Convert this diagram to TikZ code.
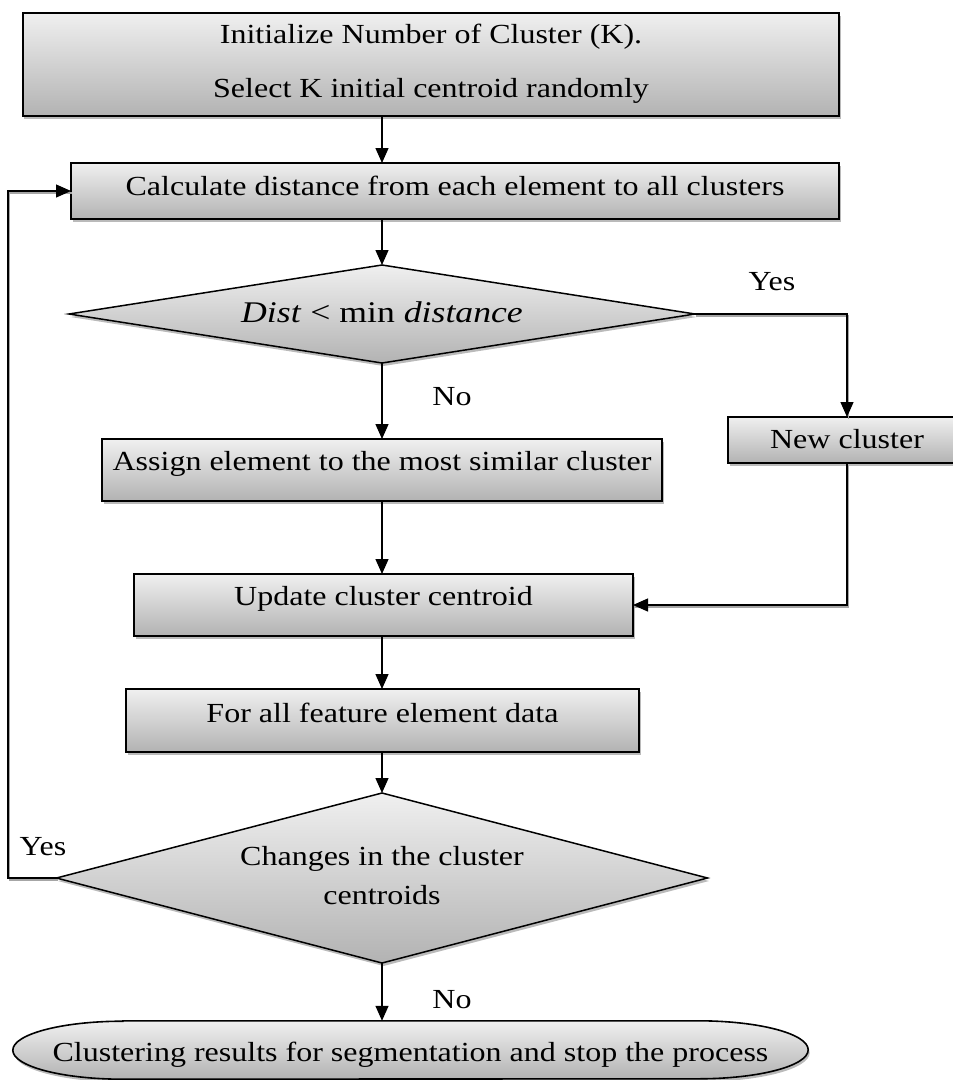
\documentclass[tikz,border=0pt]{standalone}
\usepackage{fontspec}
\setmainfont{Liberation Serif}
\usepackage{graphicx}
\usetikzlibrary{arrows.meta,shapes.geometric,shadows,calc}
\pgfdeclarelayer{background}
\pgfsetlayers{background,main}
\newcommand{\sx}[1]{\scalebox{1.16}[1]{#1}}
\tikzset{
  boxbase/.style={draw=black, inner sep=0pt, outer sep=0pt,
    top color=black!6, bottom color=black!30,
    drop shadow={shadow xshift=1.5pt, shadow yshift=-3pt, opacity=0.45, fill=black!60}},
  box/.style={boxbase, rectangle, line width=1.9pt, font=\fontsize{27.6}{33}\selectfont},
  dec/.style={boxbase, diamond, line width=1.5pt, font=\fontsize{27.6}{33}\selectfont},
  conn/.style={line width=1.3pt, -{Triangle[length=15pt,width=13pt]}},
  sconn/.style={conn, preaction={draw=black!35, line width=1.3pt, -, transform canvas={xshift=1.2pt,yshift=-2pt}}},
  lab/.style={font=\fontsize{27.6}{33}\selectfont, inner sep=0pt},
  termshape/.style={boxbase, line width=1.6pt}
}
\begin{document}
\begin{tikzpicture}[x=1pt,y=-1pt]
\useasboundingbox (0,0) rectangle (953,1080);
\clip (0,0) rectangle (953,1080);

\node[box, minimum width=816.3pt, minimum height=103.3pt, text height=80pt, text depth=14.8pt,
  font=\fontsize{27.6}{53.7}\selectfont] (b1) at (431,64.4)
  {\sx{\begin{tabular}[b]{@{}c@{}}Initialize Number of Cluster (K).\\Select K initial centroid randomly\end{tabular}}};
\node[box, minimum width=768pt, minimum height=56pt, text height=24pt, text depth=16pt] (b2) at (455,191)
  {\sx{Calculate distance from each element to all clusters}};
\node[dec, aspect=6.39, minimum width=626pt, minimum height=98pt, text height=24pt, text depth=8pt,
  font=\fontsize{30}{36}\selectfont] (d1) at (382,314)
  {\scalebox{1.19}[1]{\textit{Dist} < min \textit{distance}}};
\node[box, minimum width=560pt, minimum height=62pt, text height=24pt, text depth=24pt] (asg) at (382,470)
  {\sx{Assign element to the most similar cluster}};
\node[box, minimum width=238pt, minimum height=46pt, text height=24pt, text depth=8pt] (nc) at (847,440)
  {\sx{New cluster}};
\node[box, minimum width=499pt, minimum height=62pt, text height=24pt, text depth=24pt] (upd) at (383.5,605)
  {\sx{Update cluster centroid}};
\node[box, minimum width=513pt, minimum height=63pt, text height=24pt, text depth=21pt] (fa) at (382.5,720.5)
  {\sx{For all feature element data}};
\node[dec, aspect=3.83, minimum width=651pt, minimum height=170pt, text height=70pt, text depth=18pt,
  font=\fontsize{27.6}{39}\selectfont] (d2) at (382,878)
  {\sx{\begin{tabular}[b]{@{}c@{}}Changes in the cluster\\centroids\end{tabular}}};
\node[lab, minimum width=795pt, minimum height=58pt, text height=26pt, text depth=4pt] (term) at (410.5,1050)
  {\sx{Clustering results for segmentation and stop the process}};
\begin{pgfonlayer}{background}
\path[termshape] ($(term.north west)+(110,0)$) -- ($(term.north east)+(-110,0)$)
  arc[start angle=90, end angle=-90, x radius=110pt, y radius=29pt]
  -- ($(term.south west)+(110,0)$)
  arc[start angle=270, end angle=90, x radius=110pt, y radius=29pt] -- cycle;
\end{pgfonlayer}

\node[lab] (yes1) at (772,282) {\sx{Yes}};
\node[lab] (no1) at (452,397) {\sx{No}};
\node[lab] (yes2) at (43,847) {\sx{Yes}};
\node[lab] (no2) at (452,1000) {\sx{No}};

\coordinate (loopx) at (8,0);

\draw[conn] (b1.south -| d1.north) -- (b2.north -| d1.north);
\draw[conn] (b2.south -| d1.north) -- (d1.north);
\draw[conn] (d1.south) -- (asg.north -| d1.south);
\draw[conn] (asg.south -| d1.south) -- (upd.north -| d1.south);
\draw[conn] (upd.south -| d1.south) -- (fa.north -| d1.south);
\draw[conn] (fa.south -| d1.south) -- (d2.north);
\draw[conn] (d2.south) -- (term.north -| d2.south);
\draw[sconn] (d1.east) -| (nc.north);
\draw[sconn] (nc.south) |- (upd.east);
\draw[sconn] (d2.west) -- (d2.west -| loopx) |- (b2.west);
\end{tikzpicture}
\end{document}
